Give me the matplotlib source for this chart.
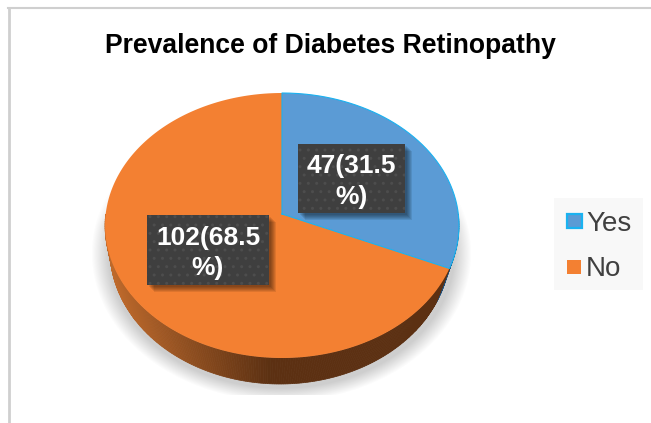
import matplotlib
matplotlib.use('Agg')
import matplotlib.pyplot as plt
import numpy as np
from matplotlib.patches import Rectangle

categories = ['Yes', 'No']
counts = [47, 102]
slice_labels = ['47(31.5\n%)', '102(68.5\n%)']
title = 'Prevalence of Diabetes Retinopathy'

blue = '#5b9bd5'
orange = '#f38032'
plt.rcParams['font.family'] = ['Liberation Sans', 'DejaVu Sans']

W, H = 651, 423
fig = plt.figure(figsize=(W / 100, H / 100), dpi=100)
ax = fig.add_axes([0, 0, 1, 1])


def project(t):
    # angle clockwise from the top -> pixel position, tilted disc with perspective
    X, Y = np.sin(t), -np.cos(t)
    w = 1 - 0.0868 * Y
    return 282 + 176.3 * X / w, 214 + 131.5 * Y / w


def lower_rim(t):
    return 280 + 170 * np.sin(t), 250 - 134 * np.cos(t)


# soft shadow behind the pie
yy, xx = np.mgrid[0:H, 0:W]
d = np.sqrt(((xx - 281) / 190.0) ** 2 + ((yy - 253) / 148.0) ** 2)
alpha = np.clip((1.0 - d) / 0.09, 0, 1) * 0.38
alpha *= np.clip((yy - 175) / 50.0, 0, 1)
alpha[yy > 394] = 0
shadow = np.zeros((H, W, 4))
shadow[..., :3] = 0.5
shadow[..., 3] = alpha
ax.imshow(shadow, extent=(0, W, H, 0), interpolation='bilinear', zorder=1)

fracs = np.array(counts) / sum(counts)
edges = np.concatenate([[0], np.cumsum(fracs)]) * 2 * np.pi

# side wall, shaded by x position
ts = np.linspace(np.pi / 2, 3 * np.pi / 2, 240)
for a, b in zip(ts[:-1], ts[1:]):
    xa, ya = project(a)
    xb, yb = project(b)
    xc, yc = lower_rim(b)
    xd, yd = lower_rim(a)
    m = (xa + xb) / 2
    s = np.clip((m - 110) / 160.0, 0, 1)
    if (a + b) / 2 < edges[1]:
        col = '#1f4e79'
    else:
        col = np.array([0.74, 0.41, 0.17]) * (1 - s) + np.array([0.36, 0.19, 0.07]) * s
    ax.fill([xa, xb, xc, xd], [ya, yb, yc, yd], color=col, lw=0.5, zorder=2)

# top face
vx, vy = 282, 214
for i, col in enumerate([blue, orange]):
    t = np.linspace(edges[i], edges[i + 1], 200)
    x, y = project(t)
    ax.fill(np.r_[vx, x], np.r_[vy, y], color=col, lw=0, zorder=3)
t = np.linspace(edges[0], edges[1], 200)
x, y = project(t)
ax.plot(np.r_[vx, x, vx], np.r_[vy, y, vy], color='#1ab2f0', lw=0.8, zorder=4)

# data label boxes
boxes = [(298, 144, 107, 69), (147, 215, 122, 70)]
for (bx, by, bw, bh), lab in zip(boxes, slice_labels):
    for k in range(6, 0, -1):
        ax.add_patch(Rectangle((bx + 1 + k, by + 1 + k), bw, bh, color='black', alpha=0.09, lw=0, zorder=5))
    ax.add_patch(Rectangle((bx, by), bw, bh, facecolor='#3f3f3f', edgecolor='#4d4d4d', hatch='..', lw=0, zorder=6))
    ax.text(bx + bw / 2, by + bh / 2 + 3, lab, color='white', fontsize=19, fontweight='bold',
            ha='center', va='center', linespacing=1.35, zorder=7)

ax.text(330.5, 46, title, fontsize=19.1, fontweight='bold', color='black', ha='center', va='center', zorder=7)

# legend
ax.add_patch(Rectangle((554, 198), 89, 92, color='#f8f8f8', lw=0, zorder=1))
ax.add_patch(Rectangle((567, 214), 14.5, 14.5, facecolor=blue, edgecolor='#1ab2f0', lw=1.6, zorder=3))
ax.add_patch(Rectangle((567, 260), 14, 14, color=orange, lw=0, zorder=3))
ax.text(586, 224, categories[0], fontsize=20, color='#404040', va='center', zorder=3)
ax.text(586, 269, categories[1], fontsize=20, color='#404040', va='center', zorder=3)

# chart border
ax.plot([9, 9], [8, H], color='#cfcfcf', lw=2, zorder=1)
ax.plot([8, W], [8, 8], color='#cfcfcf', lw=1.5, zorder=1)

ax.set_xlim(0, W)
ax.set_ylim(H, 0)
ax.axis('off')
fig.savefig('out.png', dpi=100)
